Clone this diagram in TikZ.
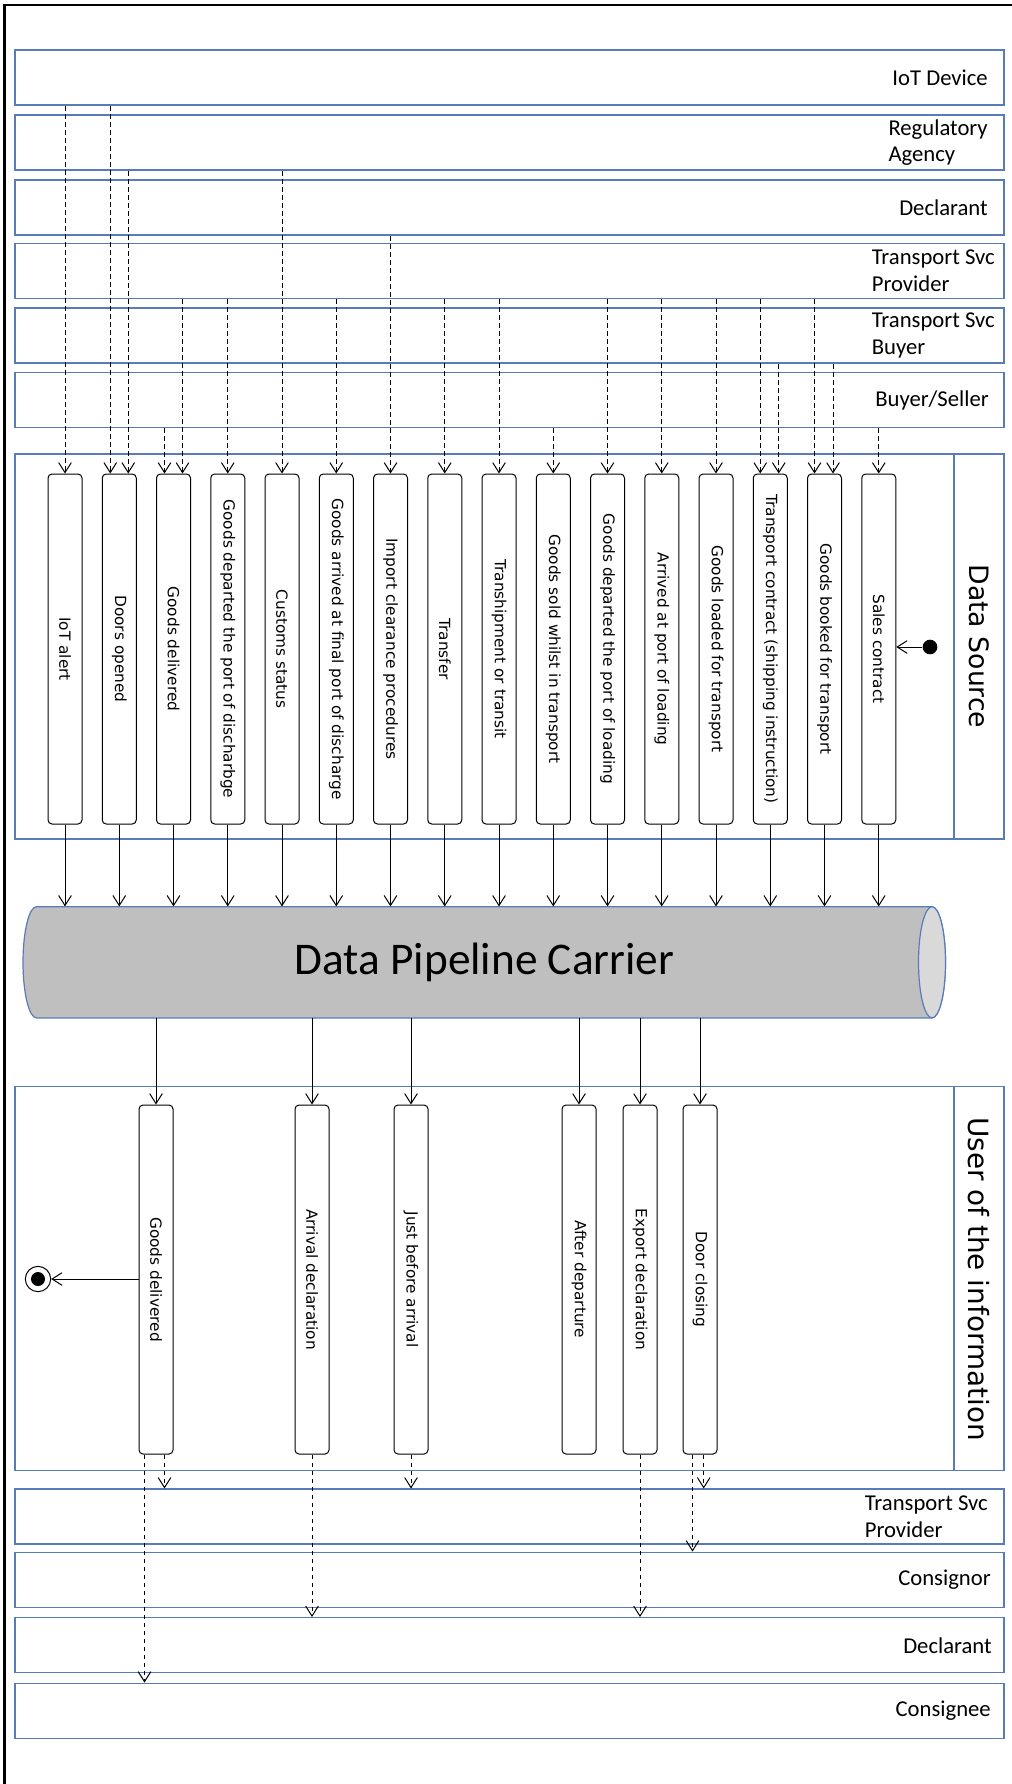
\documentclass[tikz,border=0pt]{standalone}
\usepackage{fontspec}
\setmainfont{Carlito}
\newfontfamily\dvs{DejaVu Sans}
\usetikzlibrary{arrows.meta,calc}
\definecolor{laneblue}{HTML}{5A7BB9}
\definecolor{pipegray}{HTML}{BFBFBF}
\definecolor{pipeend}{HTML}{D9D9D9}
\tikzset{
  lane/.style={draw=laneblue, line width=1.1pt, minimum width=741.75pt, minimum height=41.25pt, inner sep=0pt},
  lanelabel/.style={anchor=east, align=left, font=\fontsize{17}{20}\selectfont, inner sep=0pt},
  bigbox/.style={draw=laneblue, line width=1.1pt, minimum width=741.75pt, inner sep=0pt},
  act/.style={draw=black, line width=0.75pt, rounded corners=3pt, minimum width=25.5pt, inner sep=0pt, font=\dvs\fontsize{11.5}{13}\selectfont},
  header/.style={inner sep=0pt, font=\dvs\fontsize{20}{24}\selectfont},
  tip/.style={-{Straight Barb[length=7.5pt,width=9.5pt]}},
  dsh/.style={draw=black, line width=0.75pt, dash pattern=on 3.6pt off 2.4pt, tip},
  sol/.style={draw=black, line width=0.75pt, tip}
}
\begin{document}
\begin{tikzpicture}[x=0.75pt,y=-0.75pt]
\useasboundingbox (0,0) rectangle (1012,1784);
% frame (top and left edges only)
\draw[line width=1.9pt] (4.5,1784) -- (4.5,5) -- (1012,5);

% ---------- upper lanes ----------
\node[lane] (iot) at (509.5,77.5) {};
\node[lanelabel] (iotL) at (988,77.5) {IoT Device};
\node[lane] (reg) at (509.5,142.5) {};
\node[lanelabel] (regL) at (988,142.5) {Regulatory\\Agency};
\node[lane] (dec) at (509.5,207.5) {};
\node[lanelabel] (decL) at (988,207.5) {Declarant};
\node[lane] (tsp) at (509.5,271) {};
\node[lanelabel] (tspL) at (995,271) {Transport Svc\\Provider};
\node[lane] (tsb) at (509.5,335.5) {};
\node[lanelabel] (tsbL) at (995,335.5) {Transport Svc\\Buyer};
\node[lane] (bs) at (509.5,400) {};
\node[lanelabel] (bsL) at (989,400) {Buyer/Seller};

% ---------- data source area ----------
\node[bigbox, minimum height=288.75pt] (ds) at (509.5,646.5) {};
\coordinate (divx) at (954,0);
\draw[laneblue, line width=1pt] (ds.north -| divx) -- (ds.south -| divx);
\node[header] (dsL) at (979,646.5) {\rotatebox{-90}{Data Source}};

\foreach \i/\t in {1/IoT alert, 2/Doors opened, 3/Goods delivered,
  4/Goods departed the port of discharbge, 5/Customs status,
  6/Goods arrived at final port of discharge, 7/Import clearance procedures,
  8/Transfer, 9/Transhipment or transit, 10/Goods sold whilst in transport,
  11/Goods departed the port of loading, 12/Arrived at port of loading,
  13/Goods loaded for transport, 14/Transport contract (shipping instruction),
  15/Goods booked for transport, 16/Sales contract}
{
  \node[act, minimum height=262.5pt] (a\i) at ({65+54.25*(\i-1)},649) {\rotatebox{-90}{\t}};
}

% offset entry points for boxes with two inputs
\coordinate (a2l) at ($(a2.north)+(-9,0)$);
\coordinate (a2r) at ($(a2.north)+(9,0)$);
\coordinate (a3l) at ($(a3.north)+(-9,0)$);
\coordinate (a3r) at ($(a3.north)+(9,0)$);
\coordinate (a14l) at ($(a14.north)+(-10,0)$);
\coordinate (a14r) at ($(a14.north)+(8.5,0)$);
\coordinate (a15l) at ($(a15.north)+(-10,0)$);
\coordinate (a15r) at ($(a15.north)+(8.5,0)$);

% dashed inputs from the lanes
\draw[dsh] (iot.south -| a1.north) -- (a1.north);
\draw[dsh] (iot.south -| a2l) -- (a2l);
\draw[dsh] (reg.south -| a2r) -- (a2r);
\draw[dsh] (bs.south -| a3l) -- (a3l);
\draw[dsh] (tsp.south -| a3r) -- (a3r);
\draw[dsh] (tsp.south -| a4.north) -- (a4.north);
\draw[dsh] (reg.south -| a5.north) -- (a5.north);
\draw[dsh] (tsp.south -| a6.north) -- (a6.north);
\draw[dsh] (dec.south -| a7.north) -- (a7.north);
\draw[dsh] (tsp.south -| a8.north) -- (a8.north);
\draw[dsh] (tsp.south -| a9.north) -- (a9.north);
\draw[dsh] (bs.south -| a10.north) -- (a10.north);
\draw[dsh] (tsp.south -| a11.north) -- (a11.north);
\draw[dsh] (tsp.south -| a12.north) -- (a12.north);
\draw[dsh] (tsp.south -| a13.north) -- (a13.north);
\draw[dsh] (tsp.south -| a14l) -- (a14l);
\draw[dsh] (tsb.south -| a14r) -- (a14r);
\draw[dsh] (tsp.south -| a15l) -- (a15l);
\draw[dsh] (tsb.south -| a15r) -- (a15r);
\draw[dsh] (bs.south -| a16.north) -- (a16.north);

% initial node
\node[circle, fill=black, minimum size=11pt, inner sep=0pt] (start) at (930,647) {};
\draw[sol] (start) -- (start -| a16.east);

% ---------- pipeline ----------
\path[fill=pipegray, draw=laneblue, line width=0.9pt]
  (36.5,906.7) -- (932,906.7)
  arc[start angle=-90, end angle=90, x radius=13.5, y radius=55.6]
  -- (36.5,1017.9)
  arc[start angle=90, end angle=270, x radius=13.5, y radius=55.6] -- cycle;
\draw[fill=pipeend, draw=laneblue, line width=0.9pt] (932,962.3) ellipse [x radius=13.5, y radius=55.6];
\node[inner sep=0pt, minimum width=692.25pt, minimum height=83.4pt, font=\fontsize{34}{40}\selectfont] (pipe) at (484.5,962.3) {Data Pipeline Carrier};

\foreach \i in {1,...,16}{
  \draw[sol] (a\i.south) -- (a\i.south |- pipe.north);
}

% ---------- user of the information ----------
\node[bigbox, minimum height=288pt] (us) at (509.5,1278.7) {};
\draw[laneblue, line width=1pt] (us.north -| divx) -- (us.south -| divx);
\node[header, font=\dvs\fontsize{20.9}{24}\selectfont] (usL) at (979,1279) {\rotatebox{-90}{User of the information}};

\foreach \n/\x/\t in {1/156/Goods delivered, 2/312/Arrival declaration, 3/411/Just before arrival,
  4/579/After departure, 5/640/Export declaration, 6/700/Door closing}
{
  \node[act, minimum height=261.75pt] (u\n) at (\x,1279.5) {\rotatebox{-90}{\t}};
  \draw[sol] (u\n.north |- pipe.south) -- (u\n.north);
}

% final node
\node[circle, draw=black, line width=0.75pt, minimum size=19pt, inner sep=0pt] (final) at (38,1279) {};
\node[circle, fill=black, minimum size=10.5pt, inner sep=0pt] (finalin) at (final.center) {};
\draw[sol] (u1.west |- final) -- (final);

% ---------- lower lanes ----------
\node[lane] (tsp2) at (509.5,1516.7) {};
\node[lanelabel] (tsp2L) at (988,1516.7) {Transport Svc\\Provider};
\node[lane] (cnr) at (509.5,1579.8) {};
\node[lanelabel] (cnrL) at (991,1579.8) {Consignor};
\node[lane] (dec2) at (509.5,1645.2) {};
\node[lanelabel] (dec2L) at (992,1645.2) {Declarant};
\node[lane] (cne) at (509.5,1710.8) {};
\node[lanelabel] (cneL) at (991,1710.8) {Consignee};

\coordinate (u1l) at ($(u1.south)+(-11.5,0)$);
\coordinate (u1r) at ($(u1.south)+(8.5,0)$);
\coordinate (u6l) at ($(u6.south)+(-7.5,0)$);
\coordinate (u6r) at ($(u6.south)+(3.7,0)$);

\draw[dsh] (u1l) -- (u1l |- cne.north);
\draw[dsh] (u1r) -- (u1r |- tsp2.north);
\draw[dsh] (u2.south) -- (u2.south |- dec2.north);
\draw[dsh] (u3.south) -- (u3.south |- tsp2.north);
\draw[dsh] (u5.south) -- (u5.south |- dec2.north);
\draw[dsh] (u6l) -- (u6l |- cnr.north);
\draw[dsh] (u6r) -- (u6r |- tsp2.north);
\end{tikzpicture}
\end{document}
